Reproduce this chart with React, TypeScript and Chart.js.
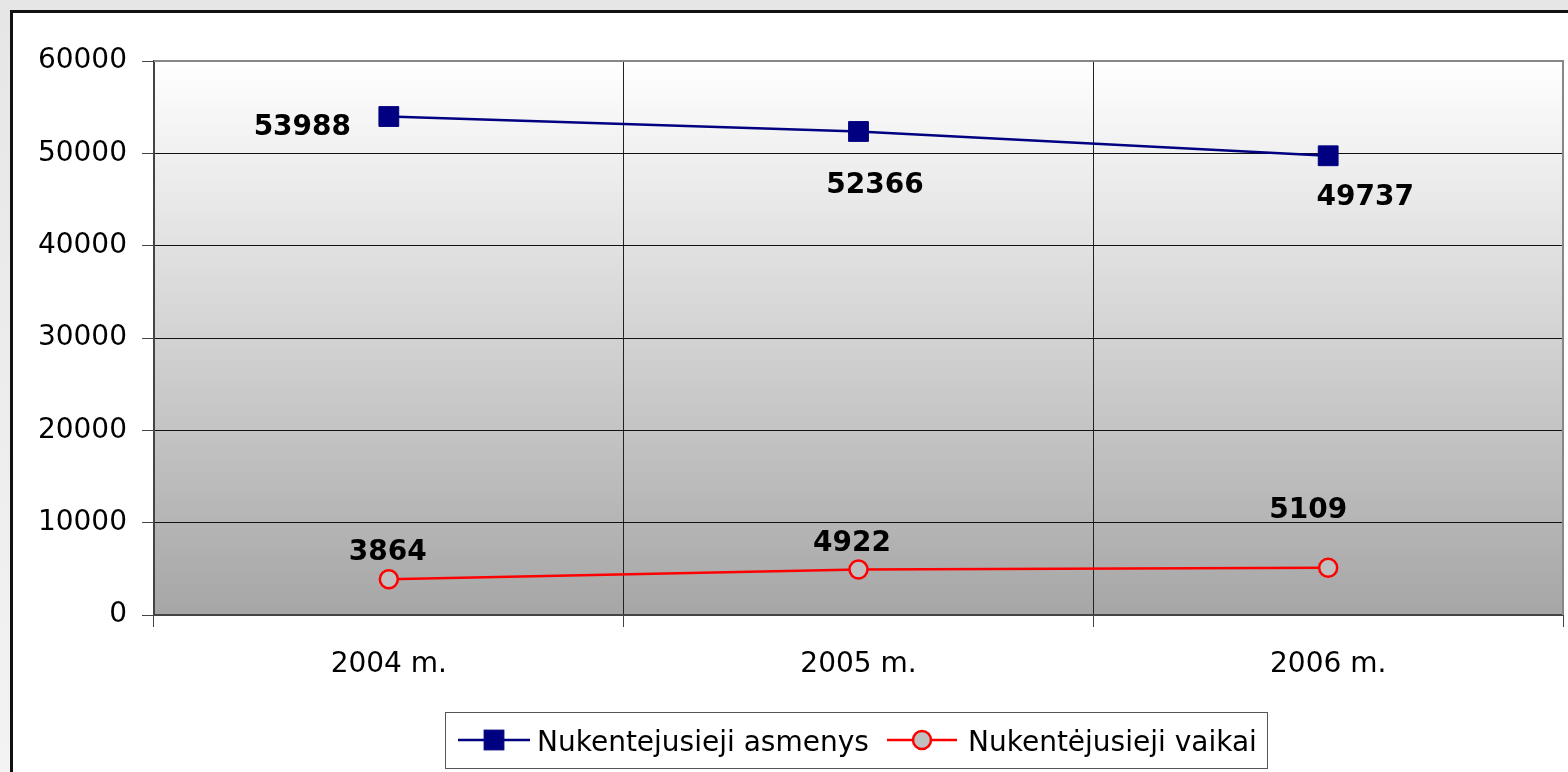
import React, { useEffect, useRef } from "react";
import { Chart, registerables } from "chart.js";

Chart.register(...registerables);

const categories = ["2004 m.", "2005 m.", "2006 m."];
const asmenys = [53988, 52366, 49737];
const vaikai = [3864, 4922, 5109];
const seriesNames = ["Nukentejusieji asmenys", "Nukentėjusieji vaikai"];
const yMin = 0;
const yMax = 60000;
const yStep = 10000;

const FONT = "'DejaVu Sans', Verdana, sans-serif";

const framePlugin = {
  id: "frame",
  beforeDraw(chart: any) {
    const { ctx, width, height, chartArea } = chart;
    ctx.save();
    const bg = ctx.createLinearGradient(0, 0, 0, height);
    bg.addColorStop(0, "#e6e6e6");
    bg.addColorStop(1, "#f3f3f3");
    ctx.fillStyle = bg;
    ctx.fillRect(0, 0, width, height);
    ctx.fillStyle = "#ffffff";
    ctx.fillRect(10, 10, width, height);
    ctx.fillStyle = "#111111";
    ctx.fillRect(10, 10, width, 3);
    ctx.fillRect(10, 10, 3, height);
    const g = ctx.createLinearGradient(0, chartArea.top, 0, chartArea.bottom);
    g.addColorStop(0, "#ffffff");
    g.addColorStop(1, "#a6a6a6");
    ctx.fillStyle = g;
    ctx.fillRect(chartArea.left, chartArea.top, chartArea.right - chartArea.left, chartArea.bottom - chartArea.top);
    ctx.restore();
  },
  afterDatasetsDraw(chart: any) {
    const { ctx, chartArea } = chart;
    ctx.save();
    ctx.strokeStyle = "#878787";
    ctx.lineWidth = 2;
    ctx.beginPath();
    ctx.moveTo(chartArea.left, chartArea.top);
    ctx.lineTo(chartArea.right, chartArea.top);
    ctx.lineTo(chartArea.right, chartArea.bottom);
    ctx.stroke();
    ctx.restore();
  },
};

const labelPlugin = {
  id: "pointLabels",
  afterDatasetsDraw(chart: any, _args: any, opts: any) {
    const { ctx } = chart;
    ctx.save();
    ctx.font = `bold 28px ${FONT}`;
    ctx.fillStyle = "#000";
    ctx.textAlign = "center";
    ctx.textBaseline = "alphabetic";
    chart.data.datasets.forEach((ds: any, di: number) => {
      const meta = chart.getDatasetMeta(di);
      const offs = opts.offsets[di];
      meta.data.forEach((pt: any, i: number) => {
        const [dx, dy] = offs[i];
        ctx.fillText(String(ds.data[i]), pt.x + dx, pt.y + dy + 10);
      });
    });
    ctx.restore();
  },
};

const legendPlugin = {
  id: "boxLegend",
  afterDraw(chart: any, _args: any, opts: any) {
    const { ctx } = chart;
    const b = opts.box;
    ctx.save();
    ctx.fillStyle = "#ffffff";
    ctx.fillRect(b.x, b.y, b.w, b.h);
    ctx.strokeStyle = "#555555";
    ctx.lineWidth = 1;
    ctx.strokeRect(b.x + 0.5, b.y + 0.5, b.w, b.h);
    const cy = b.y + b.h / 2;
    ctx.font = `28px ${FONT}`;
    ctx.textAlign = "left";
    ctx.textBaseline = "alphabetic";
    chart.data.datasets.forEach((ds: any, di: number) => {
      const it = opts.items[di];
      ctx.strokeStyle = ds.borderColor;
      ctx.lineWidth = ds.borderWidth;
      ctx.beginPath();
      ctx.moveTo(it.x0, cy);
      ctx.lineTo(it.x1, cy);
      ctx.stroke();
      const mx = (it.x0 + it.x1) / 2;
      ctx.fillStyle = ds.pointBackgroundColor;
      ctx.strokeStyle = ds.pointBorderColor;
      ctx.lineWidth = ds.pointBorderWidth;
      if (ds.pointStyle === "rect") {
        const s = ds.pointRadius * Math.SQRT1_2;
        ctx.fillRect(mx - s, cy - s, 2 * s, 2 * s);
        ctx.strokeRect(mx - s, cy - s, 2 * s, 2 * s);
      } else {
        ctx.beginPath();
        ctx.arc(mx, cy, ds.pointRadius, 0, Math.PI * 2);
        ctx.fill();
        ctx.stroke();
      }
      ctx.fillStyle = "#000";
      ctx.fillText(ds.label, it.tx, cy + 10.5);
    });
    ctx.restore();
  },
};

export default function App() {
  const ref = useRef<HTMLCanvasElement | null>(null);

  useEffect(() => {
    document.body.style.margin = "0";
    if (!ref.current) return;
    const chart = new Chart(ref.current, {
      type: "line",
      data: {
        labels: categories,
        datasets: [
          {
            label: seriesNames[0],
            data: asmenys,
            borderColor: "#000080",
            borderWidth: 2.5,
            pointStyle: "rect",
            pointRadius: 14,
            pointHoverRadius: 14,
            pointBackgroundColor: "#000080",
            pointBorderColor: "#000080",
            pointBorderWidth: 1,
            tension: 0,
          },
          {
            label: seriesNames[1],
            data: vaikai,
            borderColor: "#ff0000",
            borderWidth: 2.5,
            pointStyle: "circle",
            pointRadius: 9,
            pointHoverRadius: 9,
            pointBackgroundColor: "#c0c0c0",
            pointBorderColor: "#ff0000",
            pointBorderWidth: 2.5,
            tension: 0,
          },
        ] as any,
      },
      options: {
        responsive: false,
        animation: false,
        devicePixelRatio: 1,
        events: [],
        layout: { autoPadding: false, padding: { top: 61, right: 5, left: 0, bottom: 0 } },
        scales: {
          x: {
            type: "category",
            offset: true,
            grid: {
              offset: true,
              color: "#222222",
              lineWidth: 1,
              tickLength: 12,
              tickColor: "#444444",
            },
            border: { display: true, color: "#444444", width: 2 },
            ticks: {
              font: { family: FONT, size: 28 },
              color: "#000",
              padding: 21,
              maxRotation: 0,
            },
            afterFit(scale: any) {
              scale.height = 157;
              scale.paddingLeft = 0;
              scale.paddingRight = 0;
            },
          },
          y: {
            min: yMin,
            max: yMax,
            ticks: {
              stepSize: yStep,
              font: { family: FONT, size: 28 },
              color: "#000",
              padding: 15,
              callback: (v: any) => String(v),
            },
            grid: {
              color: "#111111",
              lineWidth: 1,
              tickLength: 12,
              tickColor: "#444444",
            },
            border: { display: true, color: "#444444", width: 2 },
            afterFit(scale: any) {
              scale.width = 154;
            },
          },
        },
        plugins: {
          legend: { display: false },
          tooltip: { enabled: false },
          pointLabels: {
            offsets: [
              [[-86.5, 8.5], [16.5, 52], [37, 39]],
              [[-1, -29], [-6.5, -29], [-20, -60]],
            ],
          },
          boxLegend: {
            box: { x: 445, y: 712, w: 822, h: 56 },
            items: [
              { x0: 458, x1: 530, tx: 537 },
              { x0: 887, x1: 957, tx: 968 },
            ],
          },
        } as any,
      },
      plugins: [framePlugin, labelPlugin, legendPlugin],
    });
    return () => chart.destroy();
  }, []);

  return (
    <div style={{ width: 1568, height: 772, overflow: "hidden" }}>
      <canvas ref={ref} width={1568} height={772} style={{ display: "block", width: 1568, height: 772 }} />
    </div>
  );
}
